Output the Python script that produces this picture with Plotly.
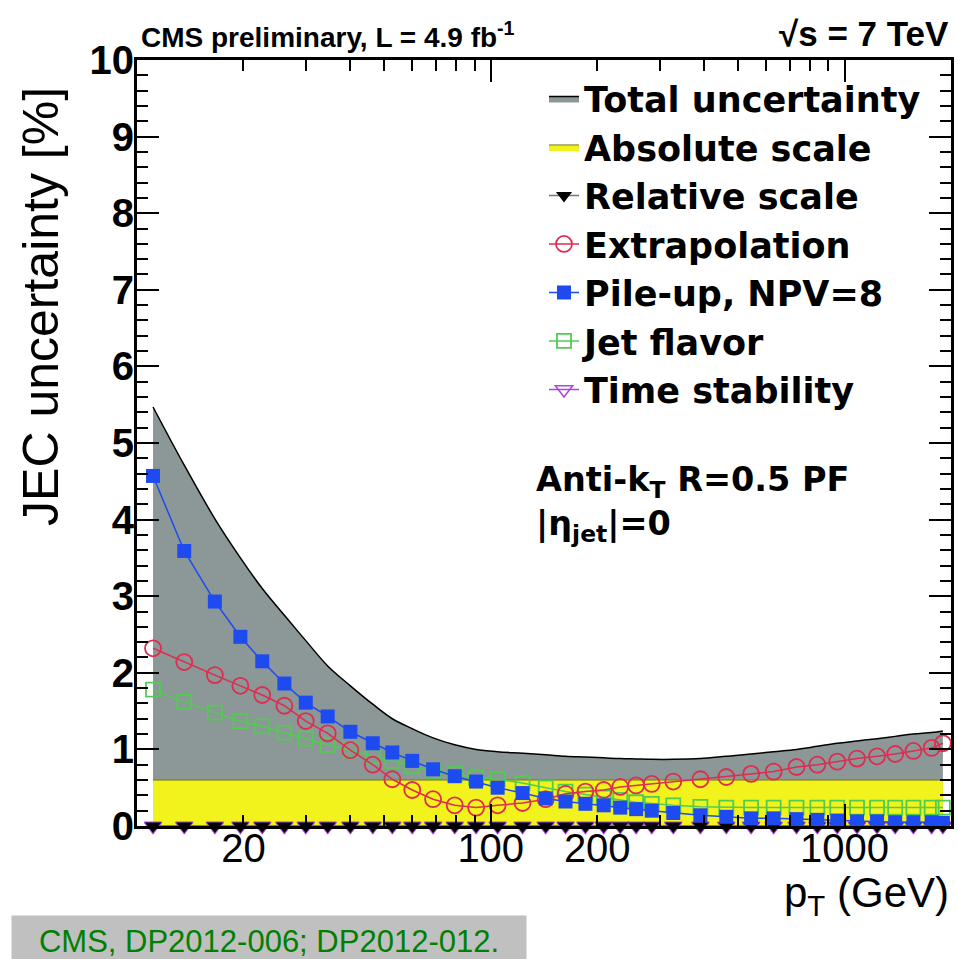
import plotly.graph_objects as go

# ---- data ----
pt = [11.1, 13.6, 16.6, 19.6, 22.6, 26.1, 30.0, 34.6, 40.1, 46.4, 52.7, 60.0,
      68.7, 79.1, 90.9, 104.6, 123.0, 143.0, 162.7, 185.2, 208.6, 232.3, 257.6,
      285.2, 328.1, 391.4, 463.3, 544.5, 630.6, 731.7, 837.9, 953.9, 1085.0,
      1236.0, 1391.0, 1566.0, 1763.0, 1897.0]

total_unc = [5.47, 4.71, 4.01, 3.50, 3.10, 2.75, 2.42, 2.09, 1.83, 1.59, 1.40, 1.27,
             1.15, 1.06, 1.00, 0.97, 0.95, 0.93, 0.91, 0.90, 0.89, 0.88, 0.875,
             0.87, 0.87, 0.88, 0.91, 0.94, 0.97, 1.00, 1.04, 1.08, 1.11,
             1.14, 1.17, 1.20, 1.22, 1.24]

abs_pt = [11.1, 1897.0]
abs_scale = [0.6, 0.6]

relative_scale = [0.0, 0.0, 0.0, 0.0, 0.0, 0.0, 0.0, 0.0, 0.0, 0.0, 0.0, 0.0,
                  0.0, 0.0, 0.0, 0.0, 0.0, 0.0, 0.0, 0.0, 0.0, 0.0, 0.0,
                  0.0, 0.0, 0.0, 0.0, 0.0, 0.0, 0.0, 0.0, 0.0, 0.0,
                  0.0, 0.0, 0.0, 0.0, 0.0]

extrapolation = [2.32, 2.14, 1.97, 1.83, 1.71, 1.57, 1.37, 1.21, 0.99, 0.80, 0.61, 0.47,
                 0.35, 0.27, 0.24, 0.27, 0.30, 0.35, 0.42, 0.45, 0.47, 0.51, 0.53,
                 0.55, 0.58, 0.61, 0.64, 0.68, 0.71, 0.77, 0.80, 0.84, 0.88,
                 0.91, 0.94, 0.98, 1.02, 1.08]

pileup = [4.57, 3.59, 2.93, 2.47, 2.15, 1.86, 1.61, 1.43, 1.23, 1.08, 0.96, 0.85,
          0.74, 0.65, 0.58, 0.50, 0.43, 0.36, 0.32, 0.29, 0.27, 0.24, 0.22,
          0.20, 0.17, 0.14, 0.12, 0.10, 0.10, 0.09, 0.08, 0.07, 0.06,
          0.06, 0.05, 0.05, 0.05, 0.04]

jet_flavor = [1.78, 1.62, 1.48, 1.37, 1.30, 1.22, 1.14, 1.06, 0.99, 0.91, 0.85, 0.78,
              0.72, 0.68, 0.63, 0.61, 0.56, 0.50, 0.45, 0.41, 0.37, 0.34, 0.31,
              0.29, 0.27, 0.25, 0.24, 0.24, 0.24, 0.24, 0.24, 0.24, 0.24,
              0.24, 0.24, 0.24, 0.24, 0.24]

time_stability = [0.0, 0.0, 0.0, 0.0, 0.0, 0.0, 0.0, 0.0, 0.0, 0.0, 0.0, 0.0,
                  0.0, 0.0, 0.0, 0.0, 0.0, 0.0, 0.0, 0.0, 0.0, 0.0, 0.0,
                  0.0, 0.0, 0.0, 0.0, 0.0, 0.0, 0.0, 0.0, 0.0, 0.0,
                  0.0, 0.0, 0.0, 0.0, 0.0]

x_major = [10, 100, 1000]
x_minor = [20, 30, 40, 50, 60, 70, 80, 90, 200, 300, 400, 500, 600, 700, 800, 900, 2000]
x_labels = [20, 100, 200, 1000]

FONT = "Liberation Sans, Arial, Helvetica, sans-serif"
WIDE = "DejaVu Sans, Liberation Sans, sans-serif"

GREY = "rgb(140,151,151)"
YELLOW = "rgb(242,242,28)"
RED = "rgb(222,45,80)"
BLUE = "rgb(30,75,240)"
GREEN = "rgb(80,205,80)"
PURPLE = "rgb(170,70,225)"

fig = go.Figure()

fig.add_trace(go.Scatter(
    x=pt, y=total_unc, name="Total uncertainty", mode="lines",
    line=dict(color="black", width=1.5, shape="spline"),
    fill="tozeroy", fillcolor=GREY, legendrank=1))

fig.add_trace(go.Scatter(
    x=abs_pt, y=abs_scale, name="Absolute scale", mode="lines",
    line=dict(color="rgb(120,120,20)", width=1),
    fill="tozeroy", fillcolor=YELLOW, legendrank=2))

fig.add_trace(go.Scatter(
    x=pt, y=time_stability, name="Time stability", mode="lines+markers",
    line=dict(color=PURPLE, width=1.5),
    marker=dict(symbol="triangle-down-open", size=15, color=PURPLE,
                line=dict(width=1.5, color=PURPLE)),
    cliponaxis=False, legendrank=7))

fig.add_trace(go.Scatter(
    x=pt, y=relative_scale, name="Relative scale", mode="lines+markers",
    line=dict(color="rgb(110,120,120)", width=1.5),
    marker=dict(symbol="triangle-down", size=14, color="black"),
    cliponaxis=False, legendrank=3))

fig.add_trace(go.Scatter(
    x=pt, y=jet_flavor, name="Jet flavor", mode="lines+markers",
    line=dict(color=GREEN, width=1.5),
    marker=dict(symbol="square-open", size=14, color=GREEN,
                line=dict(width=1.8, color=GREEN)),
    legendrank=6))

fig.add_trace(go.Scatter(
    x=pt, y=extrapolation, name="Extrapolation", mode="lines+markers",
    line=dict(color=RED, width=1.5),
    marker=dict(symbol="circle-open", size=16, color=RED,
                line=dict(width=1.8, color=RED)),
    legendrank=4))

fig.add_trace(go.Scatter(
    x=pt, y=pileup, name="Pile-up, NPV=8", mode="lines+markers",
    line=dict(color=BLUE, width=1.5),
    marker=dict(symbol="square", size=14, color=BLUE),
    legendrank=5))

# empty trace that carries the label axis
fig.add_trace(go.Scatter(x=[], y=[], xaxis="x2", showlegend=False, hoverinfo="skip"))

fig.update_layout(
    width=958, height=959,
    margin=dict(l=137, r=4, t=60, b=133),
    paper_bgcolor="white", plot_bgcolor="white",
    font=dict(family=FONT, color="black"),
    showlegend=True,
    legend=dict(
        x=0.5, y=0.988, xanchor="left", yanchor="top",
        bgcolor="rgba(0,0,0,0)", borderwidth=0,
        font=dict(size=35, family=WIDE, weight="bold"),
        tracegroupgap=0, itemwidth=30,
    ),
    xaxis=dict(
        type="log", range=[1.0, 3.30103],
        showline=True, linewidth=3, linecolor="black", mirror="ticks",
        ticks="inside", tickvals=x_major, ticklen=22, tickwidth=2, tickcolor="black",
        showticklabels=False, showgrid=False, zeroline=False,
        minor=dict(tickvals=x_minor, ticklen=11, tickwidth=2, tickcolor="black", ticks="inside"),
    ),
    xaxis2=dict(
        type="log", range=[1.0, 3.30103], overlaying="x", anchor="y", side="bottom",
        showline=False, ticks="", tickvals=x_labels, ticktext=[str(v) for v in x_labels],
        tickfont=dict(size=40, family=FONT), ticklabelstandoff=-5,
        showgrid=False, zeroline=False,
    ),
    yaxis=dict(
        range=[0, 10], dtick=1, tick0=0,
        showline=True, linewidth=3, linecolor="black", mirror="ticks",
        ticks="inside", ticklen=22, tickwidth=2, tickcolor="black",
        tickfont=dict(size=40, family=FONT, weight="bold"),
        ticklabelstandoff=-8,
        showgrid=False, zeroline=False,
        minor=dict(dtick=0.2, ticklen=11, tickwidth=2, tickcolor="black", ticks="inside"),
    ),
)

ann = []
ann.append(dict(text="<b>CMS preliminary, L = 4.9 fb<sup>-1</sup></b>",
                xref="paper", yref="paper", x=0.003, y=1.006, xanchor="left", yanchor="bottom",
                showarrow=False, font=dict(size=28, family=FONT)))
ann.append(dict(text="<b>√s = 7 TeV</b>",
                xref="paper", yref="paper", x=1.0, y=1.006, xanchor="right", yanchor="bottom",
                showarrow=False, font=dict(size=35, family=FONT)))
ann.append(dict(text="<b>Anti-k<sub>T</sub> R=0.5 PF</b>",
                xref="paper", yref="paper", x=0.488, y=0.449, xanchor="left", yanchor="middle",
                showarrow=False, font=dict(size=33.5, family=WIDE)))
ann.append(dict(text="<b>|η<sub>jet</sub>|=0</b>",
                xref="paper", yref="paper", x=0.488, y=0.392, xanchor="left", yanchor="middle",
                showarrow=False, font=dict(size=33.5, family=WIDE)))
ann.append(dict(text="JEC uncertainty [%]", textangle=-90,
                xref="paper", yref="paper", x=-0.118, y=0.968, xanchor="center", yanchor="top",
                showarrow=False, font=dict(size=50, family=FONT)))
ann.append(dict(text="p<sub>T</sub> (GeV)",
                xref="paper", yref="paper", x=1.0, y=-0.091, xanchor="right", yanchor="middle",
                showarrow=False, font=dict(size=42, family=FONT)))
ann.append(dict(text="CMS, DP2012-006; DP2012-012.",
                xref="paper", yref="paper", x=0.1626, y=-0.15, xanchor="center", yanchor="middle",
                showarrow=False, font=dict(size=31, family=FONT, color="rgb(0,128,0)"),
                bgcolor="rgb(192,192,192)", width=510, height=46, borderpad=2))
fig.update_layout(annotations=ann)

fig.write_html("out.html", config={"displayModeBar": False},
               post_script="document.body.style.margin='0';document.body.style.overflow='hidden';")
